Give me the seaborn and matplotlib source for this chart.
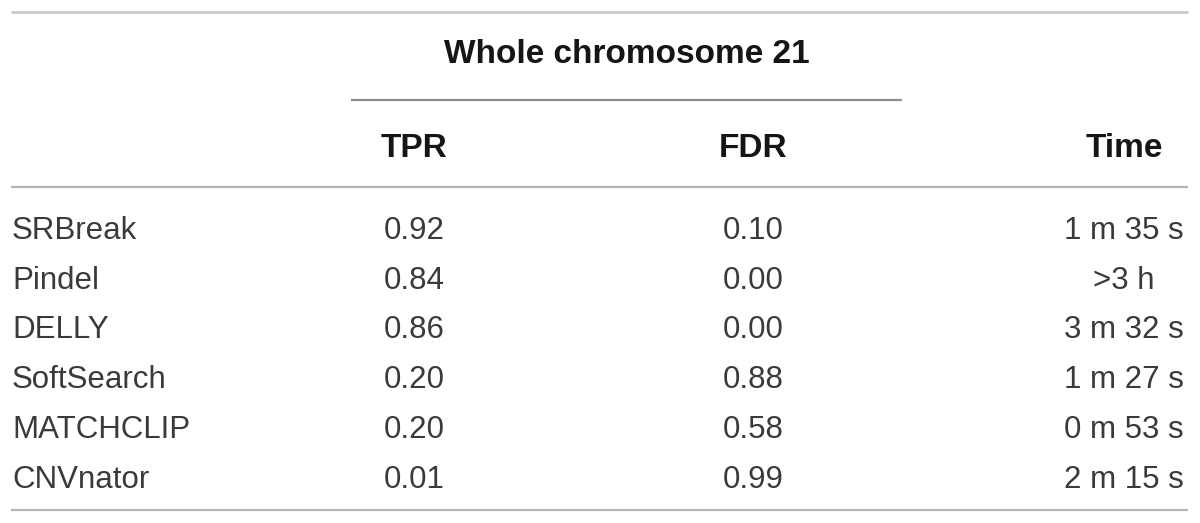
import seaborn as sns
import matplotlib.pyplot as plt
import pandas as pd

# table values
methods = ['SRBreak', 'Pindel', 'DELLY', 'SoftSearch', 'MATCHCLIP', 'CNVnator']
tpr = [0.92, 0.84, 0.86, 0.20, 0.20, 0.01]
fdr = [0.10, 0.00, 0.00, 0.88, 0.58, 0.99]
times = ['1 m 35 s', '>3 h', '3 m 32 s', '1 m 27 s', '0 m 53 s', '2 m 15 s']
col_headers = ['TPR', 'FDR', 'Time']
group_header = 'Whole chromosome 21'

data = pd.DataFrame({'Method': methods, 'TPR': tpr, 'FDR': fdr, 'Time': times})

sns.set_theme(style='white')
plt.rcParams['font.family'] = ['Liberation Sans', 'DejaVu Sans']

fig = plt.figure(figsize=(12, 5.23), dpi=100)
ax = fig.add_axes([0, 0, 1, 1])
ax.set_xlim(0, 1200)
ax.set_ylim(523, 0)
ax.axis('off')

body = dict(fontsize=22.5, color='#3a3a3a', va='baseline')
head = dict(fontsize=24, color='#151515', fontweight='bold', va='baseline')

# rules
ax.hlines(12, 11, 1188, color='#cccccc', lw=2)
ax.hlines(100, 351, 902, color='#8e8e8e', lw=1.6)
ax.hlines(187, 11, 1188, color='#b4b4b4', lw=1.6)
ax.hlines(510, 11, 1188, color='#b4b4b4', lw=1.6)

# column centres
x_tpr, x_fdr, x_time = 414, 753, 1124

# headers
ax.text(627, 63, group_header, ha='center', **head)
ax.text(x_tpr, 157, col_headers[0], ha='center', **head)
ax.text(x_fdr, 157, col_headers[1], ha='center', **head)
ax.text(x_time, 157, col_headers[2], ha='center', **head)

# body rows
y0, step = 239, 49.7
for i, row in data.iterrows():
    y = y0 + i * step
    ax.text(12, y, row['Method'], ha='left', **body)
    ax.text(x_tpr, y, f"{row['TPR']:.2f}", ha='center', **body)
    ax.text(x_fdr, y, f"{row['FDR']:.2f}", ha='center', **body)
    ax.text(x_time, y, row['Time'], ha='center', **body)

fig.savefig('out.png', dpi=100, facecolor='white')
